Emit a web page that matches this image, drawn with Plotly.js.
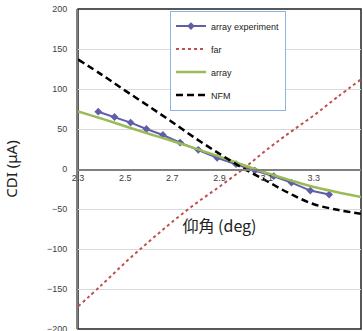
<!DOCTYPE html>
<html>
<head>
<meta charset="utf-8">
<script src="https://cdn.plot.ly/plotly-3.0.1.min.js"></script>
<style>html,body{margin:0;padding:0;background:#fff;}#chart{width:363px;height:331px;}</style>
</head>
<body>
<div id="chart"></div>
<script>
// array experiment (measured)
const expX = [2.386, 2.455, 2.523, 2.59, 2.66, 2.733, 2.81, 2.89, 2.97, 3.05, 3.13, 3.205, 3.285, 3.365];
const expY = [71.6, 65, 58, 50, 42.5, 33, 24, 14, 6, -2, -9, -17, -27, -32];
// model curves
const curveX = [2.3, 2.4, 2.5, 2.6, 2.7, 2.8, 2.9, 3.0, 3.1, 3.2, 3.3, 3.4, 3.5];
const farY   = [-172, -145, -117, -91, -66, -43, -22, 0, 24, 46, 67, 90, 112];
const arrayY = [72, 63, 53.5, 44, 35, 25.5, 15.5, 5, -5, -14, -22.5, -29, -35];
const nfmY   = [137, 118, 98, 78.5, 58.5, 38, 19, 1, -15, -31, -44, -51, -56];
const xTicks = [2.3, 2.5, 2.7, 2.9, 3.1, 3.3, 3.5];
const yTicks = [-200, -150, -100, -50, 0, 50, 100, 150, 200];

const traces = [
  {x: expX, y: expY, name: 'array experiment', mode: 'lines+markers', legendgroup: 'a',
   line: {color: '#5f5fa8', width: 2}, marker: {symbol: 'diamond', size: 6, color: '#5f5fa8'}},
  {x: curveX, y: farY, name: 'far', mode: 'lines', legendgroup: 'b', line: {shape: 'spline',
   color: '#c0504d', width: 2, dash: 'dot'}},
  {x: curveX, y: arrayY, name: 'array', mode: 'lines', legendgroup: 'c', line: {shape: 'spline',
   color: '#9bbb59', width: 2.5}},
  {x: curveX, y: nfmY, name: 'NFM', mode: 'lines', legendgroup: 'd', line: {shape: 'spline',
   color: '#000000', width: 2.5, dash: '7px,4px'}}
];

const layout = {
  width: 363, height: 331,
  margin: {l: 78, r: 2, t: 9, b: 2},
  paper_bgcolor: '#fff', plot_bgcolor: '#fff',
  font: {family: 'Liberation Sans, Arial, sans-serif', size: 9, color: '#404040'},
  showlegend: true,
  legend: {x: 0.325, y: 0.995, xanchor: 'left', yanchor: 'top', bgcolor: '#ffffff',
    bordercolor: '#8db3e2', borderwidth: 1, traceorder: 'grouped', tracegroupgap: 4,
    font: {family: 'Liberation Sans, Arial, sans-serif', size: 9, color: '#222'}},
  xaxis: {range: [2.3, 3.5], tickvals: xTicks, ticktext: xTicks.map(v => v.toFixed(1)),
    anchor: 'free', position: 0.5, showline: true, linecolor: '#808080', linewidth: 1.5,
    showgrid: false, zeroline: false, ticks: '', tickfont: {size: 9, color: '#404040'},
    title: {text: '仰角 (deg)', standoff: 38, font: {family: 'Noto Sans CJK JP', size: 16, color: '#222'}}},
  yaxis: {range: [-200, 200], tickvals: yTicks, showline: true, linecolor: '#808080', linewidth: 2,
    showgrid: true, gridcolor: '#d9d9d9', gridwidth: 1, zeroline: false, ticklabeloverflow: 'allow',
    ticks: 'outside', ticklen: 7, tickcolor: 'rgba(0,0,0,0)', tickfont: {size: 9, color: '#404040'},
    title: {text: 'CDI (μA)', standoff: 26, font: {family: 'Noto Sans', size: 15, color: '#222'}}},
  shapes: [{type: 'rect', xref: 'paper', yref: 'paper', x0: 0, x1: 1, y0: 0, y1: 1,
    line: {color: '#222', width: 1.5}, layer: 'below'}]
};

Plotly.newPlot('chart', traces, layout, {displayModeBar: false, staticPlot: true});
</script>
</body>
</html>
